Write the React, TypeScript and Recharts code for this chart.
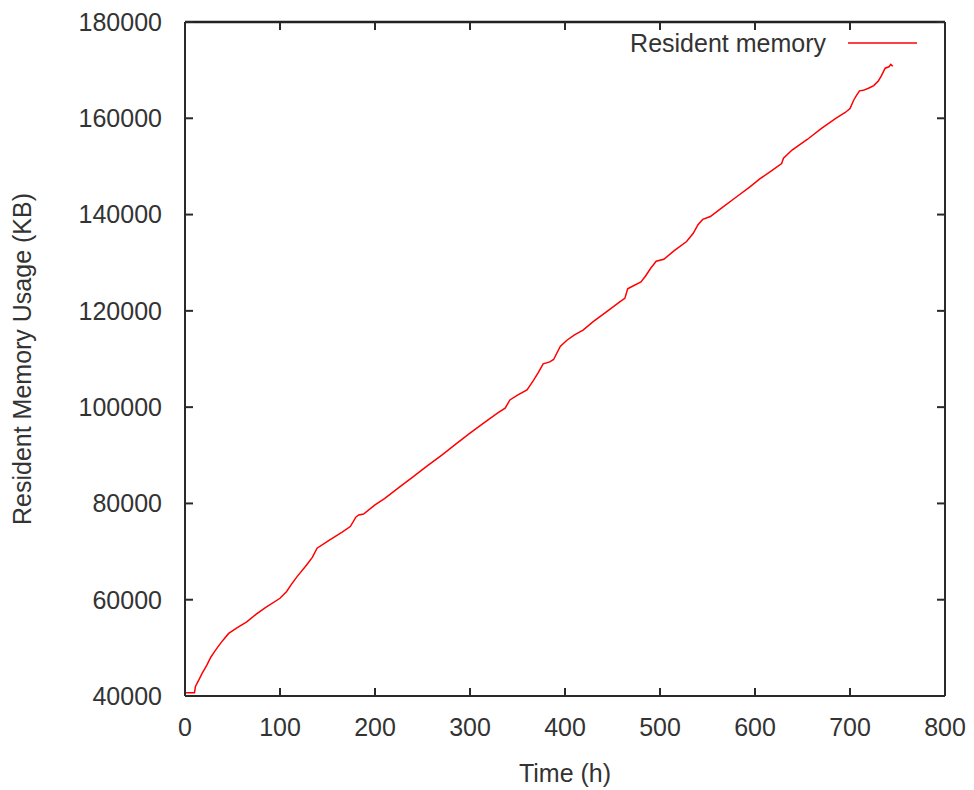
import React from 'react';
import { LineChart, Line, XAxis, YAxis, Legend, ReferenceLine } from 'recharts';

const timeHours = [0, 10, 11, 15, 18, 23, 27, 30, 35, 40, 46, 55, 65, 75, 85, 100, 107, 112, 118, 128, 134, 139, 152, 165, 174, 180, 183, 188, 200, 210, 225, 240, 255, 270, 285, 300, 315, 330, 337, 342, 350, 360, 367, 372, 377, 384, 388, 395, 402, 410, 419, 430, 445, 458, 463, 466, 470, 480, 485, 490, 496, 504, 515, 528, 535, 540, 545, 553, 565, 580, 595, 605, 618, 628, 630, 639, 655, 670, 685, 695, 700, 704, 707, 710, 714, 720, 725, 730, 733, 737, 741, 743, 745];
const residentKB = [40700, 40700, 42000, 43500, 44700, 46400, 48000, 48900, 50300, 51600, 53000, 54200, 55400, 57000, 58400, 60300, 61700, 63200, 64800, 67200, 68800, 70700, 72400, 74000, 75200, 77200, 77600, 77800, 79700, 81000, 83300, 85500, 87800, 90000, 92300, 94600, 96800, 98900, 99800, 101500, 102500, 103600, 105600, 107200, 109000, 109400, 109900, 112600, 113900, 115000, 116000, 117800, 120000, 121900, 122600, 124600, 125000, 126000, 127300, 128800, 130300, 130700, 132500, 134400, 136100, 137900, 139000, 139600, 141400, 143600, 145800, 147400, 149200, 150600, 151700, 153400, 155600, 157900, 160000, 161200, 162000, 163800, 164800, 165700, 165800, 166300, 166800, 167800, 168800, 170400, 170700, 171200, 170800];

const xTicks = [0, 100, 200, 300, 400, 500, 600, 700, 800];
const yTicks = [40000, 60000, 80000, 100000, 120000, 140000, 160000, 180000];

const seriesName = 'Resident memory';
const xTitle = 'Time (h)';
const yTitle = 'Resident Memory Usage (KB)';

const data = timeHours.map((t, i) => ({ t, kb: residentKB[i] }));

const FONT = '"Liberation Sans", Arial, sans-serif';
const TEXT = '#333333';
const AXIS = '#2a2a2a';
const AXIS_W = 2;
const TICK_LEN = 8;
const PLOT_TOP = 14;
const PLOT_BOTTOM = 688;
const PLOT_LEFT = 177;
const PLOT_RIGHT = 937;

const BottomTick = (props: any) => {
  const { x, y, payload } = props;
  return (
    <g>
      <rect x={x - AXIS_W / 2} y={PLOT_BOTTOM - TICK_LEN} width={AXIS_W} height={TICK_LEN} fill={AXIS} />
      <rect x={x - AXIS_W / 2} y={PLOT_TOP} width={AXIS_W} height={TICK_LEN} fill={AXIS} />
      <text x={x} y={y} dy="0.71em" textAnchor="middle" fontSize={25} fill={TEXT} fontFamily={FONT}>
        {payload.value}
      </text>
    </g>
  );
};

const LeftTick = (props: any) => {
  const { x, y, payload } = props;
  return (
    <g>
      <rect x={PLOT_LEFT} y={y - AXIS_W / 2} width={TICK_LEN} height={AXIS_W} fill={AXIS} />
      <rect x={PLOT_RIGHT - TICK_LEN} y={y - AXIS_W / 2} width={TICK_LEN} height={AXIS_W} fill={AXIS} />
      <text x={x} y={y} dy="0.355em" textAnchor="end" fontSize={25} fill={TEXT} fontFamily={FONT}>
        {payload.value}
      </text>
    </g>
  );
};

const noLabel = () => <g />;

const LegendContent = () => (
  <div style={{ display: 'flex', justifyContent: 'flex-end', alignItems: 'center', height: 30, fontFamily: FONT, fontSize: 25, color: TEXT }}>
    <span style={{ lineHeight: '30px' }}>{seriesName}</span>
    <svg width={69} height={4} style={{ marginLeft: 22 }}>
      <line x1={0} y1={2} x2={69} y2={2} stroke="#ff0000" strokeWidth={1.5} />
    </svg>
  </div>
);

export default function App() {
  return (
    <div style={{ fontFamily: FONT }}>
      <LineChart width={966} height={780} data={data} margin={{ top: 14, right: 0, bottom: 0, left: 0 }}>
        <XAxis
          xAxisId="bottom"
          dataKey="t"
          type="number"
          domain={[0, 800]}
          ticks={xTicks}
          interval={0}
          height={92}
          stroke={AXIS}
          strokeWidth={AXIS_W}
          tickLine={false}
          tickSize={-7}
          tickMargin={29}
          tick={BottomTick}
          label={{ value: xTitle, position: 'center', dy: 31, style: { fontSize: 25, fill: TEXT, fontFamily: FONT } }}
        />
        <YAxis
          yAxisId="left"
          type="number"
          domain={[40000, 180000]}
          ticks={yTicks}
          interval={0}
          width={177}
          stroke={AXIS}
          strokeWidth={AXIS_W}
          tickLine={false}
          tickSize={-7}
          tickMargin={30}
          tick={LeftTick}
          label={{ value: yTitle, angle: -90, position: 'center', dx: -74, style: { fontSize: 25, fill: TEXT, fontFamily: FONT, textAnchor: 'middle' } }}
        />
        <YAxis
          yAxisId="right"
          orientation="right"
          type="number"
          domain={[40000, 180000]}
          ticks={yTicks}
          interval={0}
          width={29}
          stroke={AXIS}
          strokeWidth={AXIS_W}
          tickLine={false}
          tick={noLabel}
        />
        <ReferenceLine xAxisId="bottom" yAxisId="left" y={180000} stroke="#222222" strokeWidth={2.5} ifOverflow="visible" />
        <Legend
          layout="horizontal"
          verticalAlign="middle"
          align="center"
          content={LegendContent}
          wrapperStyle={{ top: 20, left: 0, width: 909 }}
        />
        <Line
          xAxisId="bottom"
          yAxisId="left"
          type="linear"
          dataKey="kb"
          name={seriesName}
          stroke="#ff0000"
          strokeWidth={1.5}
          dot={false}
          isAnimationActive={false}
        />
      </LineChart>
    </div>
  );
}
